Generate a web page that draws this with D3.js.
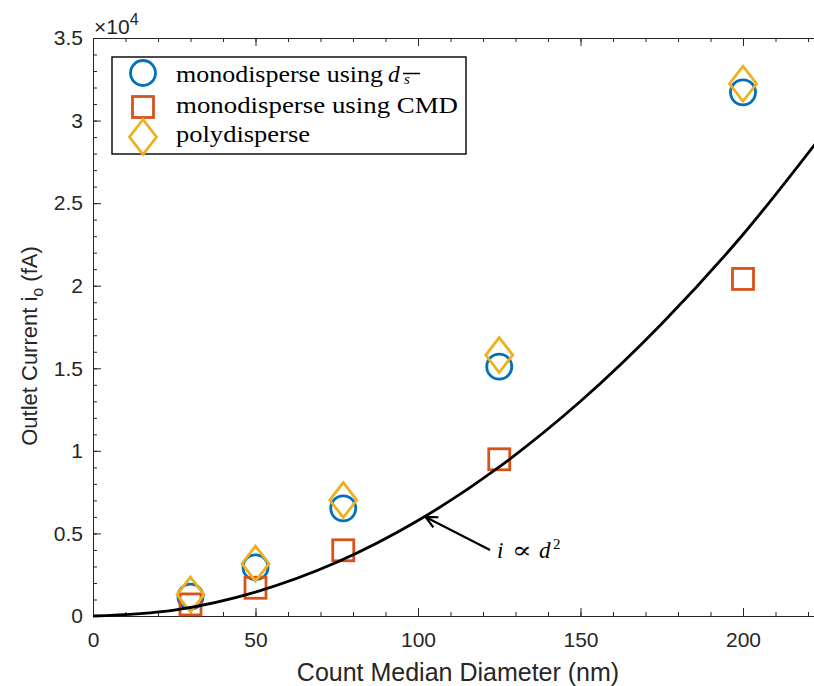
<!DOCTYPE html>
<html>
<head>
<meta charset="utf-8">
<style>
  body { margin: 0; background: #ffffff; overflow: hidden; }
  svg { display: block; overflow: hidden; }
  .tick text { font-family: "Liberation Sans", Arial, sans-serif; font-size: 21px; fill: #262626; }
</style>
<script src="https://cdn.jsdelivr.net/npm/d3@7"></script>
</head>
<body>
<svg id="chart" width="814" height="686"></svg>
<script>
// diameters (nm)
let diameters = [30, 50, 77, 125, 200];
// outlet current (fA)
let monoDs = [1170, 2950, 6520, 15100, 31710];
let monoCMD = [700, 1710, 3980, 9490, 20410];
let poly = [1300, 3170, 7020, 15800, 32230];
// i ~ d^2 reference curve
let curveD = [0, 25, 50, 75, 100, 125, 150, 175, 200, 225];
let curveI = [0, 360, 1450, 3250, 5780, 9030, 13000, 17700, 23100, 29300];

let xMajor = [0, 50, 100, 150, 200];
let yMajor = [0, 5000, 10000, 15000, 20000, 25000, 30000, 35000];
let yLabels = ["0", "0.5", "1", "1.5", "2", "2.5", "3", "3.5"];

let svg = d3.select("#chart");
let plotLeft = 93, plotTop = 38, plotBottom = 616, plotRight = 824.25;
let axisColor = "#262626";
let sans = "Liberation Sans, Arial, sans-serif";
let serif = "Liberation Serif, Times New Roman, serif";

let x = d3.scaleLinear().domain([0, 225]).range([plotLeft, plotRight]);
let y = d3.scaleLinear().domain([0, 35000]).range([plotBottom, plotTop]);

function styleAxis(g) {
  g.select(".domain").attr("stroke", axisColor).attr("stroke-width", 1);
  g.selectAll(".tick line").attr("stroke", axisColor).attr("stroke-width", 1);
}

// minor ticks
svg.append("g").attr("transform", `translate(0,${plotBottom})`)
  .call(d3.axisBottom(x).tickValues(d3.range(0, 221, 10)).tickSizeInner(-4).tickSizeOuter(0).tickFormat(""))
  .call(styleAxis);
svg.append("g").attr("transform", `translate(0,${plotTop})`)
  .call(d3.axisTop(x).tickValues(d3.range(0, 221, 10)).tickSizeInner(-4).tickSizeOuter(0).tickFormat(""))
  .call(styleAxis);
svg.append("g").attr("transform", `translate(${plotLeft},0)`)
  .call(d3.axisLeft(y).tickValues(d3.range(0, 35001, 1000)).tickSizeInner(-4).tickSizeOuter(0).tickFormat(""))
  .call(styleAxis);

// major ticks
svg.append("g").attr("transform", `translate(0,${plotBottom})`)
  .call(d3.axisBottom(x).tickValues(xMajor).tickSizeInner(-8).tickSizeOuter(0).tickPadding(16))
  .call(styleAxis);
svg.append("g").attr("transform", `translate(0,${plotTop})`)
  .call(d3.axisTop(x).tickValues(xMajor).tickSizeInner(-8).tickSizeOuter(0).tickFormat(""))
  .call(styleAxis);
svg.append("g").attr("transform", `translate(${plotLeft},0)`)
  .call(d3.axisLeft(y).tickValues(yMajor).tickSizeInner(-8).tickSizeOuter(0).tickPadding(10)
    .tickFormat((d, i) => yLabels[i]))
  .call(styleAxis);

svg.selectAll(".tick text").attr("fill", axisColor);

// exponent label
let ex = svg.append("text").attr("x", 94).attr("y", 34)
  .attr("font-family", sans).attr("font-size", 21).attr("fill", axisColor);
ex.append("tspan").text("\u00d710");
ex.append("tspan").attr("dy", -9).attr("font-size", 16).text("4");

// axis titles
svg.append("text").attr("x", 458).attr("y", 681).attr("text-anchor", "middle")
  .attr("font-family", sans).attr("font-size", 25).attr("fill", axisColor)
  .text("Count Median Diameter (nm)");

let yl = svg.append("text").attr("transform", "translate(37,346) rotate(-90)").attr("text-anchor", "middle")
  .attr("font-family", sans).attr("font-size", 22).attr("fill", axisColor);
yl.append("tspan").text("Outlet Current i");
yl.append("tspan").attr("dy", 6).attr("font-size", 16).text("o");
yl.append("tspan").attr("dy", -6).text(" (fA)");

// markers
let blue = "#0072BD", orange = "#D95319", gold = "#EDB120";
let sw = 2.8;

function drawCircle(g, cx, cy) {
  g.append("circle").attr("cx", cx).attr("cy", cy).attr("r", 12.5)
    .attr("fill", "none").attr("stroke", blue).attr("stroke-width", sw);
}
function drawSquare(g, cx, cy) {
  g.append("rect").attr("x", cx - 10.5).attr("y", cy - 10.5).attr("width", 21).attr("height", 21)
    .attr("fill", "none").attr("stroke", orange).attr("stroke-width", sw);
}
function drawDiamond(g, cx, cy) {
  g.append("path").attr("d", `M${cx},${cy - 17.5}L${cx + 13.5},${cy}L${cx},${cy + 17.5}L${cx - 13.5},${cy}Z`)
    .attr("fill", "none").attr("stroke", gold).attr("stroke-width", sw);
}

let marks = svg.append("g");
diameters.forEach((d, i) => drawCircle(marks, x(d), y(monoDs[i])));
diameters.forEach((d, i) => drawSquare(marks, x(d), y(monoCMD[i])));
diameters.forEach((d, i) => drawDiamond(marks, x(d), y(poly[i])));

// fitted curve
let line = d3.line().x(d => x(d)).y((d, i) => y(curveI[i])).curve(d3.curveMonotoneX);
svg.append("path").attr("d", line(curveD)).attr("fill", "none")
  .attr("stroke", "#000").attr("stroke-width", 2.8);

// annotation arrow
let ax0 = x(102) + 1, ay0 = y(6000);
let ax1 = 490, ay1 = 550;
let ang = Math.atan2(ay0 - ay1, ax0 - ax1);
svg.append("line").attr("x1", ax1).attr("y1", ay1).attr("x2", ax0).attr("y2", ay0)
  .attr("stroke", "#000").attr("stroke-width", 2.2);
let ah = 13, aw = 0.45;
svg.append("path")
  .attr("d", `M${ax0},${ay0}L${ax0 - ah * Math.cos(ang - aw)},${ay0 - ah * Math.sin(ang - aw)}M${ax0},${ay0}L${ax0 - ah * Math.cos(ang + aw)},${ay0 - ah * Math.sin(ang + aw)}`)
  .attr("stroke", "#000").attr("stroke-width", 2.2).attr("fill", "none");

let ann = svg.append("g").attr("font-family", serif).attr("fill", "#000");
ann.append("text").attr("x", 497).attr("y", 558).attr("font-size", 23).attr("font-style", "italic").text("i");
ann.append("text").attr("x", 512).attr("y", 558).attr("font-size", 23)
  .attr("font-family", "DejaVu Serif, serif").attr("textLength", 20).attr("lengthAdjust", "spacingAndGlyphs").text("\u221d");
ann.append("text").attr("x", 539).attr("y", 558).attr("font-size", 23).attr("font-style", "italic").text("d");
ann.append("text").attr("x", 553).attr("y", 549).attr("font-size", 15).text("2");

// legend
let lg = svg.append("g");
lg.append("rect").attr("x", 112).attr("y", 57).attr("width", 354).attr("height", 97)
  .attr("fill", "#fff").attr("stroke", "#000").attr("stroke-width", 1.4);
drawCircle(lg, 143, 73);
drawSquare(lg, 143, 107);
drawDiamond(lg, 143, 137);

let lgSize = 23.5;
lg.append("text").attr("x", 176).attr("y", 82).attr("font-family", serif).attr("font-size", lgSize)
  .attr("textLength", 207).attr("lengthAdjust", "spacingAndGlyphs").text("monodisperse using");
lg.append("text").attr("x", 388).attr("y", 82).attr("font-family", serif).attr("font-size", lgSize)
  .attr("font-style", "italic").text("d");
lg.append("text").attr("x", 404).attr("y", 84).attr("font-family", serif).attr("font-size", 15)
  .attr("font-style", "italic").text("s");
lg.append("line").attr("x1", 403).attr("x2", 420).attr("y1", 73.5).attr("y2", 73.5)
  .attr("stroke", "#000").attr("stroke-width", 1.5);
lg.append("text").attr("x", 176).attr("y", 113).attr("font-family", serif).attr("font-size", lgSize)
  .attr("textLength", 282).attr("lengthAdjust", "spacingAndGlyphs").text("monodisperse using CMD");
lg.append("text").attr("x", 176).attr("y", 142).attr("font-family", serif).attr("font-size", lgSize)
  .attr("textLength", 134).attr("lengthAdjust", "spacingAndGlyphs").text("polydisperse");
</script>
</body>
</html>
